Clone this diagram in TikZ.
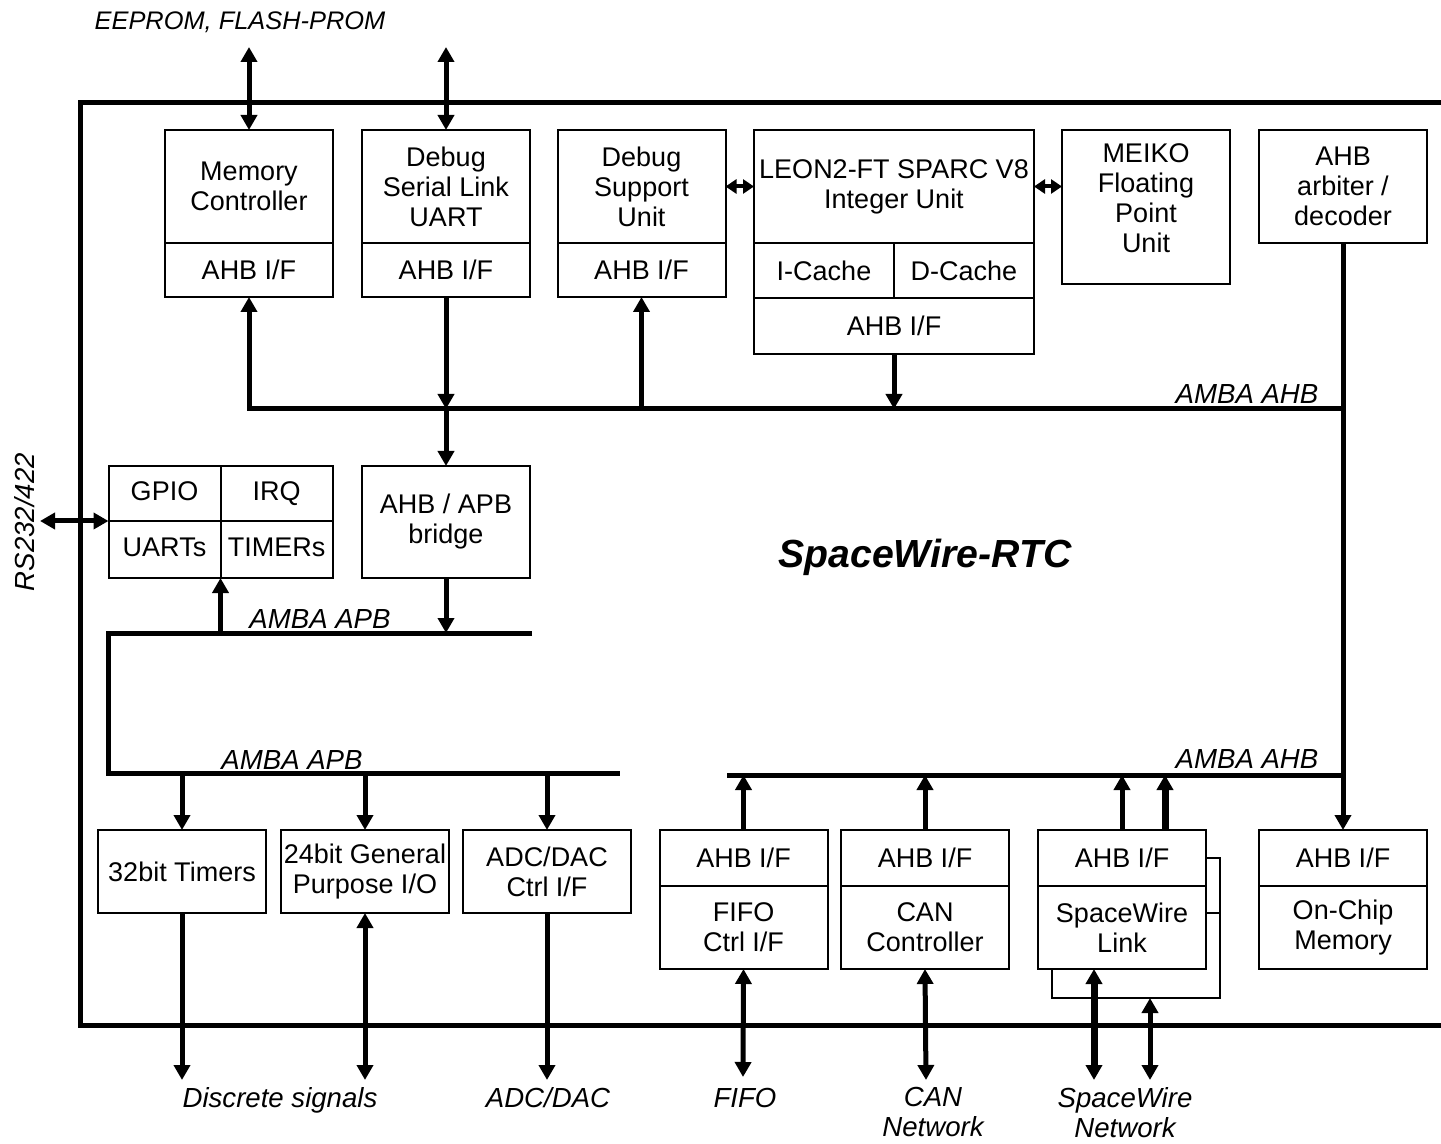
\documentclass[tikz,border=0pt]{standalone}
\usepackage{fontspec}
\setmainfont{Liberation Sans}
\usetikzlibrary{arrows.meta,positioning,calc}

\begin{document}
\begin{tikzpicture}[x=0.5pt, y=-0.5pt,
    blk/.style={draw, line width=1pt, inner sep=0pt, outer sep=0pt, align=center, minimum width=84pt, font=\fontsize{13.5}{15}\selectfont},
    cell/.style={blk, minimum width=56pt, text height=9.7pt, text depth=2.9pt},
    bus/.style={line width=2.5pt},
    fatbus/.style={line width=3.5pt},
    thinl/.style={line width=1pt},
    lbl/.style={font=\fontsize{13.8}{15}\selectfont\itshape, align=center, inner sep=0pt},
    >={Triangle[width=8pt,length=7.5pt]}
]
\useasboundingbox (0,0) rectangle (1441,1144);

% chip frame (open to the right)
\draw[bus] (1441,103) -- (80,103) -- (80,1025) -- (1441,1025);

% top row
\node[blk, minimum height=56.5pt] (memctl) at (249,186.5) {Memory\\Controller};
\node[blk, minimum height=27pt, below=0pt of memctl] (memif) {AHB I/F};
\node[blk, minimum height=56.5pt] (uart) at (446,186.5) {Debug\\Serial Link\\UART};
\node[blk, minimum height=27pt, below=0pt of uart] (uartif) {AHB I/F};
\node[blk, minimum height=56.5pt] (dsu) at (641.5,186.5) {Debug\\Support\\Unit};
\node[blk, minimum height=27pt, below=0pt of dsu] (dsuif) {AHB I/F};
\node[blk, minimum width=140pt, minimum height=56.5pt] (leon) at (894,186.5) {LEON2-FT SPARC V8\\Integer Unit};
\node[blk, minimum width=70pt, minimum height=27.5pt, anchor=north west] (icache) at (leon.south west) {I-Cache};
\node[blk, minimum width=70pt, minimum height=27.5pt, right=0pt of icache] (dcache) {D-Cache};
\node[blk, minimum width=140pt, minimum height=28pt, anchor=north] (leonif) at (icache.south east) {AHB I/F};
\node[blk, minimum height=77pt, anchor=north] (fpu) at (1146,130) {MEIKO\\Floating\\Point\\Unit\\[-6.5pt]};
\node[blk, minimum height=56.5pt] (arbiter) at (1343,186.5) {AHB\\arbiter /\\decoder};

% APB peripherals
\node[cell, minimum height=27.5pt] (gpio) at (164.5,493.5) {GPIO};
\node[cell, minimum height=27.5pt, right=0pt of gpio] (irq) {IRQ};
\node[cell, minimum height=28.5pt, below=0pt of gpio] (uarts) {UARTs};
\node[cell, minimum height=28.5pt, below=0pt of irq] (timers) {TIMERs};
\node[blk, minimum height=56pt] (bridge) at (446,522) {AHB / APB\\bridge};

\node[blk, minimum height=41.5pt] (tim32) at (182,871.5) {32bit Timers};
\node[blk, minimum height=41.5pt] (gpio24) at (365,871.5) {24bit General\\Purpose I/O};
\node[blk, minimum height=41.5pt] (adc) at (547,871.5) {ADC/DAC\\Ctrl I/F};

% AHB slaves / masters at the bottom
\foreach \n/\x/\lab in {fifo/743.5/{FIFO\\Ctrl I/F}, can/925/{CAN\\Controller}, spw/1122/{SpaceWire\\Link}, ocm/1343/{On-Chip\\Memory}} {
    \node[blk, minimum height=28pt] (\n if) at (\x,858) {AHB I/F};
    \node[blk, minimum height=41.5pt, below=0pt of \n if] (\n) {\lab};
}

\node[font=\fontsize{19.6}{22}\selectfont\bfseries\itshape] (title) at (925,557) {SpaceWire-RTC};

% AMBA AHB (top)
\coordinate (ahbL) at (249,409);
\coordinate (ahbR) at (1343,409);
\draw[bus,->] (ahbR) -- (ahbL) -- (memif.south);
\draw[bus,->] (uartif.south) -- (uartif.south |- ahbL);
\draw[bus,->] (uartif.south |- ahbL) -- (bridge.north);
\draw[bus,->] (dsuif.south |- ahbL) -- (dsuif.south);
\draw[bus,->] (leonif.south) -- (leonif.south |- ahbL);
\draw[bus,->] (arbiter.south) -- (ocmif.north);
\node[lbl, anchor=base] (ahblab) at (1247,404) {AMBA AHB};

% external links
\coordinate (eeprom) at (249,47);
\coordinate (dbglink) at (446,47);
\draw[bus,<->] (eeprom) -- (memctl.north);
\draw[bus,<->] (dbglink) -- (uart.north);
\node[lbl, font=\fontsize{12.7}{15}\selectfont\itshape] (eeplab) at (240,22) {EEPROM, FLASH-PROM};
\draw[line width=2pt,<->,>={Triangle[width=7pt,length=5.5pt]}] (dsu.east) -- (dsu.east -| leon.west);
\draw[line width=2pt,<->,>={Triangle[width=7pt,length=5.5pt]}] (leon.east) -- (leon.east -| fpu.west);

% AMBA APB
\coordinate (apb1L) at (108,633);
\coordinate (apb1R) at (532,633);
\coordinate (apb2L) at (108,773);
\coordinate (apb2R) at (620,773);
\draw[bus] (apb1R) -- (apb1L) -- (apb2L) -- (apb2R);
\draw[bus,->] (bridge.south) -- (bridge.south |- apb1L);
\draw[bus,->] (uarts.south east |- apb1L) -- (uarts.south east);
\foreach \n in {tim32, gpio24, adc}
    \draw[bus,->] (\n.north |- apb2L) -- (\n.north);
\node[lbl, anchor=base] (apblab1) at (320,628) {AMBA APB};
\node[lbl, anchor=base] (apblab2) at (292,769) {AMBA APB};

\coordinate (rs) at (40,521);
\draw[bus,<->] (rs) -- (gpio.south west);
\node[lbl, rotate=90] (rslab) at (25,522) {RS232/422};

% AMBA AHB (bottom)
\coordinate (ahb2L) at (727,775);
\draw[bus] (ahb2L) -- (arbiter.south |- ahb2L);
\draw[bus,->] (fifoif.north) -- (fifoif.north |- ahb2L);
\draw[bus,->] (canif.north) -- (canif.north |- ahb2L);
\draw[bus,->] (spwif.north) -- (spwif.north |- ahb2L);
\draw[fatbus,->] ($(spwif.north)+(43,0)$) -- ($(spwif.north |- ahb2L)+(43,0)$);
\node[lbl, anchor=base] (ahblab2) at (1247,768) {AMBA AHB};

% SpaceWire link loop
\coordinate (loopR) at (1220,998);
\coordinate (loopL) at (1052,998);
\draw[thinl] (spwif.east) -- (spwif.east -| loopR) -- (loopR) -- (loopL) -- (loopL |- spw.south);
\draw[thinl] (1206,913) -- (1220,913);

% off-chip signals
\coordinate (discA) at (182,1080);
\coordinate (discB) at (365,1080);
\coordinate (adcout) at (547,1080);
\coordinate (fifoout) at (743,1077);
\coordinate (canout) at (926,1080);
\coordinate (spwoutA) at (1094,1080);
\coordinate (spwoutB) at (1150,1080);
\draw[bus,->] (tim32.south) -- (discA);
\draw[bus,<->] (gpio24.south) -- (discB);
\draw[bus,->] (adc.south) -- (adcout);
\draw[bus,<->] (fifo.south) -- (fifoout);
\draw[bus,<->] (can.south) -- (canout);
\draw[fatbus,<->] (spwoutA |- spw.south) -- (spwoutA);
\draw[bus,<->] (spwoutB |- loopR) -- (spwoutB);

\node[lbl, anchor=base] (disclab) at (280,1107) {Discrete signals};
\node[lbl, anchor=base] (adclab) at (548,1107) {ADC/DAC};
\node[lbl, anchor=base] (fifolab) at (745,1107) {FIFO};
\node[lbl, anchor=north] (canlab) at (933,1087) {CAN\\Network};
\node[lbl, anchor=north] (spwlab) at (1125,1087) {SpaceWire\\Network};
\end{tikzpicture}
\end{document}
